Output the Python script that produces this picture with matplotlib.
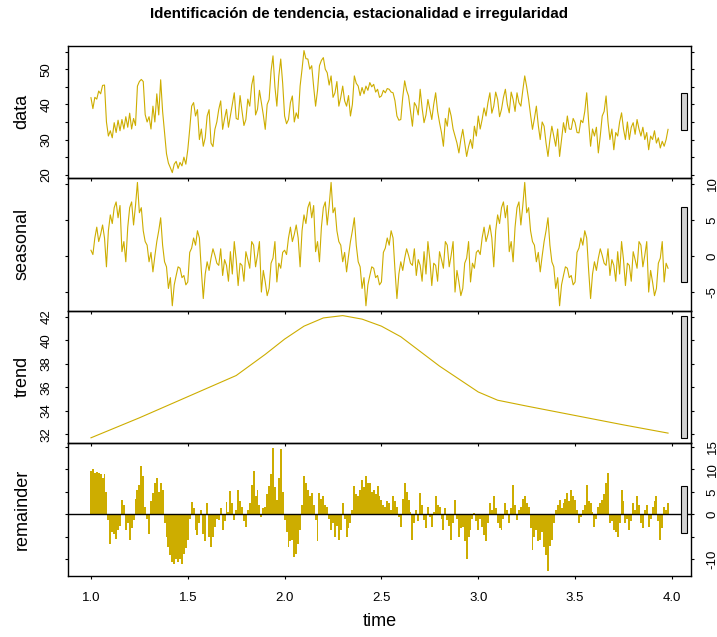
import numpy as np
import matplotlib.pyplot as plt
from matplotlib.patches import Rectangle

# --- values, one every 0.01 of a period from 1.00 to 3.98 ---
START = 1.0
STEP = 0.01

data_vals = [
    41.9, 38.8, 42.0, 41.5, 43.8, 43.0, 45.4, 45.5, 35.0, 31.0,
    32.5, 30.5, 34.8, 32.0, 35.5, 32.5, 35.7, 33.0, 36.5, 33.5,
    37.5, 33.0, 36.0, 34.0, 45.2, 46.5, 47.1, 46.5, 37.1, 35.0,
    36.5, 33.0, 39.5, 35.0, 43.0, 37.0, 47.0, 38.0, 31.9, 26.0,
    23.3, 22.0, 20.6, 23.0, 23.8, 21.8, 23.5, 22.5, 25.0, 23.0,
    27.1, 33.0, 39.5, 40.5, 36.7, 38.5, 30.0, 33.0, 28.1, 30.5,
    36.7, 38.5, 29.0, 28.0, 32.9, 35.0, 38.6, 41.0, 32.9, 36.0,
    38.6, 33.5, 36.7, 40.0, 43.3, 36.0, 35.7, 42.5, 38.1, 34.0,
    35.7, 41.5, 39.5, 45.5, 48.1, 37.0, 38.6, 44.0, 40.5, 37.0,
    32.9, 40.0, 41.4, 49.5, 53.8, 45.0, 39.5, 48.0, 52.9, 46.0,
    36.7, 34.5, 35.7, 40.5, 42.4, 35.0, 37.6, 36.0, 45.2, 50.0,
    55.3, 53.0, 52.9, 50.0, 51.0, 45.0, 39.5, 44.0, 51.0, 52.5,
    53.3, 50.0, 49.0, 45.5, 48.1, 42.0, 43.3, 46.5, 39.5, 42.0,
    45.2, 41.0, 39.5, 42.5, 36.7, 40.0, 48.1, 46.0, 45.2, 42.5,
    44.8, 43.0, 45.2, 44.0, 46.2, 45.0, 45.7, 43.5, 44.3, 42.0,
    42.4, 44.0, 43.3, 44.5, 44.3, 43.5, 43.3, 41.0, 36.7, 35.5,
    35.7, 42.0, 46.7, 44.0, 42.4, 38.0, 33.8, 40.5, 39.5, 37.0,
    44.3, 39.0, 34.8, 37.0, 41.4, 38.5, 35.7, 40.0, 43.3, 38.0,
    34.8, 32.0, 28.1, 36.0, 33.8, 39.0, 36.7, 33.0, 31.0, 29.0,
    26.2, 30.0, 32.9, 29.0, 25.2, 28.0, 30.0, 27.5, 33.8, 31.0,
    36.7, 33.0, 35.7, 39.0, 36.7, 40.5, 43.3, 37.5, 39.5, 43.5,
    41.4, 36.5, 38.6, 42.0, 44.3, 40.0, 37.6, 43.5, 41.4, 38.0,
    43.3, 40.5, 39.5, 44.0, 48.1, 45.0, 41.4, 37.0, 32.9, 36.0,
    39.5, 34.0, 30.0, 35.0, 33.8, 29.0, 25.2, 30.0, 33.8, 31.0,
    28.1, 33.0, 25.2, 30.0, 34.8, 32.0, 36.7, 33.0, 32.9, 36.0,
    34.8, 32.0, 31.9, 35.5, 34.8, 38.0, 43.3, 35.0, 28.1, 33.0,
    31.0, 33.5, 26.2, 31.0, 36.7, 38.0, 42.4, 35.0, 30.0, 33.0,
    27.1, 32.0, 31.0, 35.0, 37.6, 33.0, 30.0, 35.0, 30.0, 33.5,
    34.8, 31.5, 35.7, 33.0, 31.0, 33.5, 30.0, 32.0, 27.1, 31.0,
    30.0, 32.5, 29.0, 30.5, 27.6, 29.5, 28.1, 30.0, 32.9,
]

seasonal_vals = [
    # first year
    0.8, 0.2, 2.5, 4.0, 2.0, 3.0, 4.3, 2.5, -1.5, 3.5,
    5.7, 4.5, 6.7, 7.5, 5.3, 7.0, 0.6, 2.0, -0.8, 4.0,
    6.7, 7.5, 4.3, 7.0, 10.2, 6.0, 6.7, 3.5, 2.0, 1.5,
    -0.8, 0.5, -2.2, 0.0, 2.0, 3.5, 5.3, 1.5, -0.8, -1.5,
    -4.5, -3.0, -6.9, -4.0, -2.7, -1.5, -1.7, -3.0, -2.7, -4.0,
    -3.6, 0.5, 1.1, 2.5, 1.5, 3.5, 2.5, -2.0, -5.9, -2.5,
    -0.8, -2.0, -0.3, 1.0, 0.1, -1.0, -1.3, 1.0, -2.7, -0.5,
    -1.3, -3.5, 0.6, -2.5, 2.0, -0.5, -4.1, -1.0, -1.3, -3.5,
    0.6, -0.5, -1.7, 2.0, 1.5, -1.5, 0.1, 2.0, -5.0, -2.0,
    -3.6, -5.5, -4.5, -1.0, -0.3, 2.0, -3.6, -1.0, -1.7, 0.5,
    # second year
    0.8, 0.2, 2.5, 4.0, 2.0, 3.0, 4.3, 2.5, -1.5, 3.5,
    5.7, 4.5, 6.7, 7.5, 5.3, 7.0, 0.6, 2.0, -0.8, 4.0,
    6.7, 7.5, 4.3, 7.0, 10.2, 6.0, 6.7, 3.5, 2.0, 1.5,
    -0.8, 0.5, -2.2, 0.0, 2.0, 3.5, 5.3, 1.5, -0.8, -1.5,
    -4.5, -3.0, -6.9, -4.0, -2.7, -1.5, -1.7, -3.0, -2.7, -4.0,
    -3.6, 0.5, 1.1, 2.5, 1.5, 3.5, 2.5, -2.0, -5.9, -2.5,
    -0.8, -2.0, -0.3, 1.0, 0.1, -1.0, -1.3, 1.0, -2.7, -0.5,
    -1.3, -3.5, 0.6, -2.5, 2.0, -0.5, -4.1, -1.0, -1.3, -3.5,
    0.6, -0.5, -1.7, 2.0, 1.5, -1.5, 0.1, 2.0, -5.0, -2.0,
    -3.6, -5.5, -4.5, -1.0, -0.3, 2.0, -3.6, -1.0, -1.7, 0.5,
    # third year
    0.8, 0.2, 2.5, 4.0, 2.0, 3.0, 4.3, 2.5, -1.5, 3.5,
    5.7, 4.5, 6.7, 7.5, 5.3, 7.0, 0.6, 2.0, -0.8, 4.0,
    6.7, 7.5, 4.3, 7.0, 10.2, 6.0, 6.7, 3.5, 2.0, 1.5,
    -0.8, 0.5, -2.2, 0.0, 2.0, 3.5, 5.3, 1.5, -0.8, -1.5,
    -4.5, -3.0, -6.9, -4.0, -2.7, -1.5, -1.7, -3.0, -2.7, -4.0,
    -3.6, 0.5, 1.1, 2.5, 1.5, 3.5, 2.5, -2.0, -5.9, -2.5,
    -0.8, -2.0, -0.3, 1.0, 0.1, -1.0, -1.3, 1.0, -2.7, -0.5,
    -1.3, -3.5, 0.6, -2.5, 2.0, -0.5, -4.1, -1.0, -1.3, -3.5,
    0.6, -0.5, -1.7, 2.0, 1.5, -1.5, 0.1, 2.0, -5.0, -2.0,
    -3.6, -5.5, -4.5, -1.0, -0.3, 2.0, -3.6, -1.0, -1.7,
]

remainder_vals = [
    9.6, 10.0, 9.2, 9.4, 9.2, 9.0, 8.0, 9.0, 5.0, -1.3,
    -6.5, -4.0, -4.3, -5.5, -3.5, -2.5, 3.2, 2.0, -3.5, -2.0,
    -5.7, -3.0, -1.3, 3.5, 5.4, 6.5, 10.7, 8.5, 1.7, -1.0,
    -4.3, 3.0, 4.7, 7.0, 8.1, 5.0, 6.9, 5.5, -2.0, -5.0,
    -7.2, -9.0, -10.6, -11.0, -9.9, -10.5, -9.9, -11.0, -8.7, -7.5,
    -5.7, -1.0, 2.8, 1.5, -3.5, -4.5, -2.0, 1.0, -4.3, -6.0,
    2.5, -5.0, -7.2, -5.0, -2.8, -1.0, -1.3, 1.5, -3.5, -1.5,
    2.8, 0.5, 5.1, 2.5, -1.3, 1.0, 5.4, 3.0, 1.7, -1.5,
    -2.8, 1.0, 2.5, 6.5, 9.6, 4.0, 5.4, 2.0, -0.5, 1.5,
    1.7, 4.5, 6.2, 9.0, 14.8, 6.0, 3.2, 8.0, 14.4, 5.0,
    -1.3, -4.0, -7.2, -6.0, -5.7, -9.5, -8.7, -6.5, -3.5, 2.0,
    8.4, 7.0, 5.4, 4.0, 4.7, 2.0, -1.3, -6.0, 4.7, 3.5,
    4.0, 2.0, 1.7, -1.0, -3.5, -2.0, -5.0, -2.5, -5.7, -3.5,
    2.5, -1.0, -5.0, -3.0, -2.0, 1.0, 6.2, 4.5, 4.0, 5.5,
    7.7, 6.0, 8.4, 7.0, 6.9, 5.0, 5.4, 4.5, 6.2, 4.0,
    3.2, 2.0, 1.7, 3.0, 2.5, 1.0, 4.0, 3.0, 1.7, -0.5,
    -2.8, 3.5, 6.9, 5.0, 3.2, 0.5, -5.7, -2.0, 1.0, -1.5,
    4.7, 2.0, -1.3, -3.0, 1.7, -0.5, -2.8, 0.5, 4.0, 2.0,
    1.7, -1.0, -3.5, 1.5, -1.3, -2.5, -5.7, -2.0, 3.2, -1.0,
    -5.0, -3.0, -2.8, -6.0, -9.9, -5.0, -3.5, -1.0, 0.2, -1.5,
    -3.5, -1.0, -2.8, -4.5, -6.0, -2.0, 2.5, 1.0, 4.0, 1.5,
    -2.0, -3.0, -3.5, -1.0, 2.5, 1.0, -2.0, 1.5, 6.6, 2.0,
    -1.3, 1.0, 1.7, 3.5, 4.0, 2.5, 1.7, -3.0, -8.0, -5.0,
    -3.5, -6.0, -5.7, -4.0, -7.2, -9.0, -12.5, -7.0, -5.7, -2.0,
    1.0, 2.0, 3.2, 1.5, 2.5, 3.5, 4.7, 3.0, 5.4, 4.0,
    3.2, 1.0, -2.0, -0.5, 1.0, 2.0, 6.6, 3.0, 2.5, 0.5,
    -2.8, -1.0, 1.7, 2.5, 3.2, 4.5, 6.9, 9.2, -2.0, -1.5,
    -3.5, -4.0, -5.0, -2.0, 5.4, 3.0, -2.0, -1.0, -3.5, -1.5,
    2.5, 1.0, 4.0, 2.0, -2.0, -3.0, 1.0, 2.0, -2.8, -1.0,
    1.7, 3.0, 4.0, -1.5, -5.7, -3.0, 1.7, 1.0, 2.5,
]

# trend is smooth, so a few knots are enough
trend_t = [1.00, 1.25, 1.50, 1.75, 1.90, 2.00, 2.10, 2.20, 2.30, 2.40,
           2.50, 2.60, 2.80, 3.00, 3.10, 3.25, 3.50, 3.75, 3.98]
trend_vals = [31.7, 33.4, 35.2, 37.0, 38.8, 40.1, 41.2, 41.9, 42.1, 41.8,
              41.2, 40.3, 37.8, 35.6, 34.9, 34.4, 33.6, 32.8, 32.1]

TITLE = 'Identificación de tendencia, estacionalidad e irregularidad'
PANEL_LABELS = ['data', 'seasonal', 'trend', 'remainder']
X_TICKS = [1.0, 1.5, 2.0, 2.5, 3.0, 3.5, 4.0]
Y_TICKS = [[20, 25, 30, 35, 40, 45, 50, 55],
           [-5, 0, 5, 10],
           [32, 34, 36, 38, 40, 42],
           [-10, -5, 0, 5, 10, 15]]
Y_TICK_LABELS = [['20', '', '30', '', '40', '', '50', ''],
                 ['-5', '0', '5', '10'],
                 ['32', '34', '36', '38', '40', '42'],
                 ['-10', '', '0', '5', '10', '15']]

COL = '#CDAD00'
plt.rcParams['font.family'] = ['Liberation Sans', 'DejaVu Sans']

def time_index(vals):
    return START + STEP * np.arange(len(vals))

xs = [time_index(data_vals), time_index(seasonal_vals), np.array(trend_t),
      time_index(remainder_vals)]
ys = [np.array(data_vals), np.array(seasonal_vals), np.array(trend_vals),
      np.array(remainder_vals)]

# range bars: same length in every panel (the smallest range)
mx = min(y.max() - y.min() for y in ys)

W, H = 717, 637
fig = plt.figure(figsize=(W / 100, H / 100), dpi=100)
x0, x1 = 68.3, 690.7
edges = [45.7, 177.5, 310.7, 442.7, 575.7]
xlim = (0.883, 4.097)

for i in range(4):
    top, bot = edges[i], edges[i + 1]
    ax = fig.add_axes([x0 / W, 1 - bot / H, (x1 - x0) / W, (bot - top) / H])
    ax.patch.set_visible(False)
    x, y = xs[i], ys[i]
    if i < 3:
        ax.plot(x, y, color=COL, lw=0.8)
    else:
        ax.bar(x, y, width=STEP, color=COL, linewidth=0)
        ax.axhline(0, color='black', lw=1)
    r = y.max() - y.min()
    ax.set_ylim(y.min() - 0.04 * r, y.max() + 0.04 * r)
    ax.set_xlim(*xlim)

    dx = (xlim[1] - xlim[0]) / 64
    ym = (y.max() + y.min()) / 2
    ax.add_patch(Rectangle((xlim[1] - dx, ym - mx / 2), 0.6 * dx, mx,
                           facecolor='#D3D3D3', edgecolor='black', lw=0.8, zorder=5))

    right = i % 2 == 1
    ax.set_xticks(X_TICKS)
    ax.set_xticklabels(['%.1f' % v for v in X_TICKS])
    ax.set_yticks(Y_TICKS[i])
    ax.set_yticklabels(Y_TICK_LABELS[i], rotation=90, va='center')
    ax.tick_params(axis='both', direction='out', length=2.4, width=0.8,
                   labelsize=9.5, colors='black')
    ax.tick_params(axis='y', left=True, right=True, labelleft=not right,
                   labelright=right, pad=9)
    ax.tick_params(axis='x', bottom=True, top=False, labelbottom=(i == 3), pad=9)
    for s in ax.spines.values():
        s.set_linewidth(1.0)
        s.set_color('black')

    fig.text(22 / W, 1 - (top + bot) / 2 / H, PANEL_LABELS[i], rotation=90,
             ha='center', va='center', fontsize=13)

fig.text(0.5, 1 - 14 / H, TITLE, ha='center', va='center', fontsize=10.9, fontweight='bold')
fig.text((x0 + x1) / 2 / W, 1 - 622 / H, 'time', ha='center', va='center', fontsize=13)

fig.savefig('out.png', dpi=100)
